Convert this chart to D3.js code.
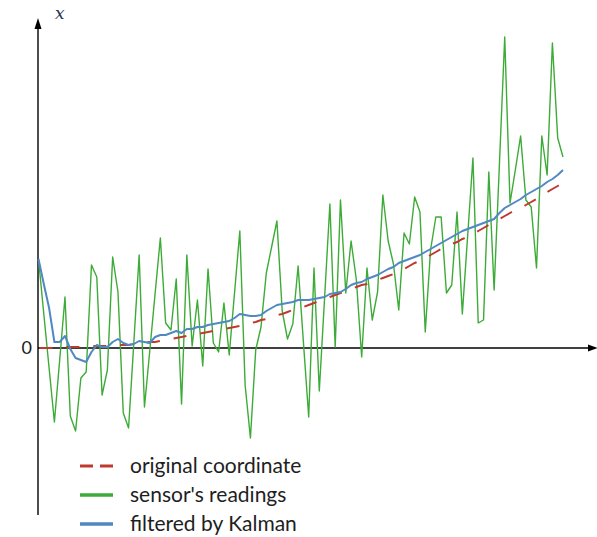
<!DOCTYPE html>
<html>
<head>
<meta charset="utf-8">
<script src="https://cdn.jsdelivr.net/npm/d3@7"></script>
<style>
  html, body { margin: 0; padding: 0; background: #fff; }
  svg { display: block; }
</style>
</head>
<body>
<svg id="chart" width="597" height="537"></svg>
<script>
// Sample index (one reading per step)
const steps = d3.range(100);

// True coordinate of the tracked object
const original = [
  0.0, 0.0, 0.0, 0.0, 0.1, 0.1, 0.1, 0.1, 0.1, 0.1,
  0.2, 0.2, 0.2, 0.2, 0.2, 0.3, 0.3, 0.3, 0.4, 0.4,
  0.5, 0.6, 0.6, 0.7, 0.8, 0.9, 1.0, 1.1, 1.2, 1.3,
  1.4, 1.5, 1.6, 1.7, 1.8, 1.9, 2.0, 2.1, 2.2, 2.4,
  2.5, 2.6, 2.8, 2.9, 3.1, 3.3, 3.4, 3.6, 3.8, 3.9,
  4.1, 4.3, 4.5, 4.7, 4.9, 5.1, 5.3, 5.5, 5.7, 5.9,
  6.1, 6.3, 6.4, 6.6, 6.8, 7.0, 7.2, 7.4, 7.6, 7.9,
  8.2, 8.5, 8.7, 9.0, 9.3, 9.6, 9.9, 10.1, 10.4, 10.6,
  10.9, 11.1, 11.4, 11.7, 12.0, 12.3, 12.6, 12.9, 13.2, 13.5,
  13.8, 14.0, 14.3, 14.6, 14.9, 15.3, 15.6, 15.9, 16.2, 16.5
];

// Noisy sensor readings
const readings = [
  8.9, 3.4, -2.0, -7.4, -1.2, 5.1, -6.8, -8.3, -3.0, -2.4,
  8.3, 7.1, -4.7, -2.2, 9.1, 5.6, -6.5, -8.0, 0.6, 9.3,
  -5.9, -0.3, 5.4, 11.0, 2.5, 1.8, 6.9, -5.6, 9.3, 0.2,
  4.8, -1.8, 7.9, 0.5, -0.4, 4.5, -0.7, 5.5, 11.7, -3.7,
  -9.0, -0.2, 2.1, 7.5, 10.1, 12.7, 3.7, 0.9, 2.4, 8.2,
  0.6, -6.9, 8.0, -4.3, 5.0, 14.4, 0.1, 14.8, 5.5, 10.7,
  6.8, -0.9, 8.0, 2.8, 5.6, 15.3, 10.7, 8.4, 3.8, 11.5,
  10.4, 15.1, 13.6, 1.6, 9.8, 13.1, 13.1, 5.5, 6.3, 13.6,
  3.4, 11.2, 19.0, 2.5, 2.8, 17.6, 5.8, 18.4, 31.1, 14.5,
  17.8, 21.2, 14.8, 14.1, 8.0, 21.2, 17.3, 30.5, 21.0, 19.1
];

// Kalman filter estimate
const filtered = [
  8.9, 6.4, 4.0, 0.6, 0.6, 1.2, -0.1, -1.0, -1.2, -1.4,
  -0.4, 0.3, 0.1, 0.1, 0.6, 0.9, 0.5, 0.3, 0.4, 0.7,
  0.6, 0.5, 1.1, 1.3, 1.3, 1.5, 1.7, 1.5, 1.9, 1.9,
  2.1, 2.1, 2.3, 2.4, 2.5, 2.6, 2.7, 3.0, 3.4, 3.3,
  3.2, 3.2, 3.3, 3.7, 4.0, 4.3, 4.4, 4.5, 4.6, 4.8,
  4.8, 4.8, 4.9, 5.0, 5.1, 5.4, 5.5, 5.6, 5.9, 6.3,
  6.5, 6.6, 6.9, 7.1, 7.3, 7.6, 7.9, 8.1, 8.5, 8.7,
  8.9, 9.1, 9.3, 9.6, 9.9, 10.2, 10.5, 10.8, 11.1, 11.4,
  11.7, 11.9, 12.1, 12.3, 12.5, 12.7, 12.9, 13.5, 14.0, 14.3,
  14.6, 14.9, 15.3, 15.6, 15.9, 16.2, 16.6, 16.9, 17.3, 17.8
];

const legendLabels = ["original coordinate", "sensor's readings", "filtered by Kalman"];
const yTickLabels = ["0"];
const axisLabel = "x";

const colors = { original: "#c0392f", readings: "#3dab37", filtered: "#5088c3" };

const svg = d3.select("#chart");

const x = d3.scaleLinear().domain([0, 99]).range([38.5, 563]);
const y = d3.scaleLinear().domain([-16.7, 33]).range([515, 18]);

const axisX = 38;
const axisRight = 597;

// Axes with arrowheads
const axes = svg.append("g").attr("stroke", "#000").attr("stroke-width", 1.4);
axes.append("line")
  .attr("x1", axisX).attr("x2", axisX)
  .attr("y1", y(-16.7)).attr("y2", y(33) + 6);
axes.append("line")
  .attr("x1", axisX).attr("x2", axisRight - 5)
  .attr("y1", y(0)).attr("y2", y(0));
svg.append("path")
  .attr("d", `M${axisX},${y(33)} L${axisX - 3.5},${y(33) + 11} L${axisX + 3.5},${y(33) + 11} Z`)
  .attr("fill", "#000");
svg.append("path")
  .attr("d", `M${axisRight + 1},${y(0)} L${axisRight - 9},${y(0) - 3.5} L${axisRight - 9},${y(0) + 3.5} Z`)
  .attr("fill", "#000");

// Axis texts
svg.append("text")
  .attr("x", 55).attr("y", 19)
  .attr("font-family", "'DejaVu Serif', 'Liberation Serif', serif")
  .attr("font-style", "italic")
  .attr("font-size", 17)
  .attr("fill", "#2a3550")
  .text(axisLabel);
svg.selectAll("text.ytick")
  .data(yTickLabels)
  .enter().append("text")
  .attr("class", "ytick")
  .attr("x", 32).attr("y", d => y(+d))
  .attr("dy", "0.35em")
  .attr("text-anchor", "end")
  .attr("font-family", "Lato, 'Open Sans', sans-serif")
  .attr("font-size", 18)
  .attr("fill", "#1a1a1a")
  .text(d => d);

const line = vals => d3.line()
  .x((d, i) => x(steps[i]))
  .y(d => y(d))(vals);

// Series
svg.append("path")
  .attr("d", line(readings))
  .attr("fill", "none")
  .attr("stroke", colors.readings)
  .attr("stroke-width", 1.4)
  .attr("stroke-linejoin", "round");

svg.append("path")
  .attr("d", line(original))
  .attr("fill", "none")
  .attr("stroke", colors.original)
  .attr("stroke-width", 2)
  .attr("stroke-dasharray", "13,14")
  .attr("stroke-dashoffset", -1);

svg.append("path")
  .attr("d", line(filtered))
  .attr("fill", "none")
  .attr("stroke", colors.filtered)
  .attr("stroke-width", 2)
  .attr("stroke-linejoin", "round");

// Legend
const legendRows = [
  { label: legendLabels[0], color: colors.original, dash: "13,7" },
  { label: legendLabels[1], color: colors.readings, dash: null },
  { label: legendLabels[2], color: colors.filtered, dash: null }
];
const legend = svg.append("g");
legendRows.forEach((r, i) => {
  const cy = 466 + i * 29;
  legend.append("line")
    .attr("x1", 80).attr("x2", 113)
    .attr("y1", cy).attr("y2", cy)
    .attr("stroke", r.color)
    .attr("stroke-width", i === 0 ? 3 : 3.5)
    .attr("stroke-dasharray", r.dash);
  legend.append("text")
    .attr("x", 130).attr("y", cy)
    .attr("dy", "0.35em")
    .attr("font-family", "Lato, 'Open Sans', sans-serif")
    .attr("font-size", 21)
    .attr("fill", "#1e1e1e")
    .text(r.label);
});
</script>
</body>
</html>
